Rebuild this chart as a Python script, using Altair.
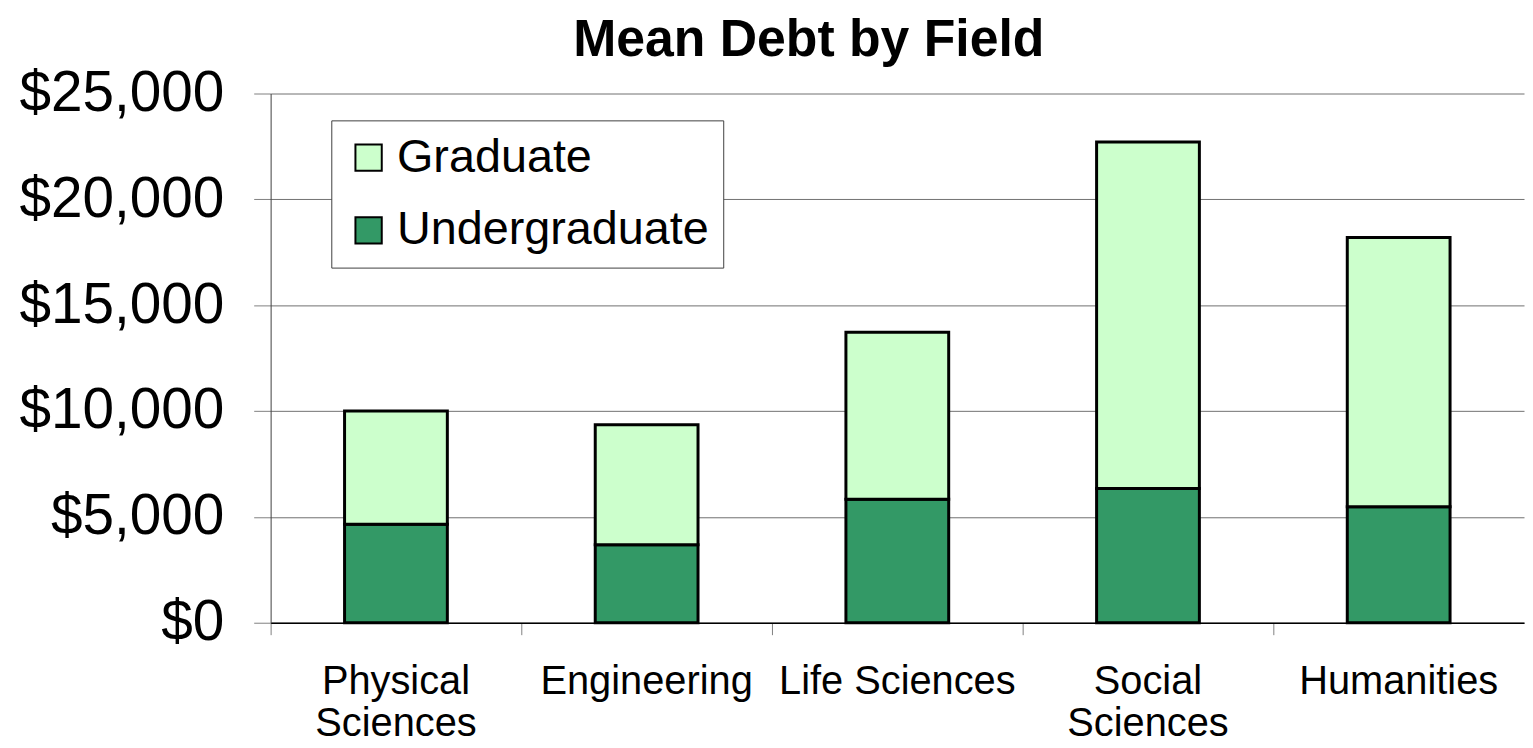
import altair as alt
import pandas as pd

fields = ["Physical Sciences", "Engineering", "Life Sciences", "Social Sciences", "Humanities"]
undergraduate = [4650, 3680, 5830, 6340, 5480]
graduate = [5350, 5670, 7890, 16370, 12720]
series = ["Graduate", "Undergraduate"]
colors = ["#CCFFCC", "#339966"]
y_ticks = [0, 5000, 10000, 15000, 20000, 25000]

rows = []
for f, u, g in zip(fields, undergraduate, graduate):
    rows.append({"Field": f, "Level": "Undergraduate", "Debt": u, "ord": 0})
    rows.append({"Field": f, "Level": "Graduate", "Debt": g, "ord": 1})
df = pd.DataFrame(rows)

FONT = "Liberation Sans"

label_expr = (
    "datum.label == 'Physical Sciences' ? ['Physical', 'Sciences'] : "
    "datum.label == 'Social Sciences' ? ['Social', 'Sciences'] : datum.label"
)

chart = alt.Chart(df).mark_bar(stroke="black", strokeWidth=3,
                               width=alt.RelativeBandSize(0.41)).encode(
    x=alt.X("Field:N", sort=fields, title=None,
            scale=alt.Scale(paddingInner=0, paddingOuter=0),
            axis=alt.Axis(labelAngle=0, labelExpr=label_expr, labelFont=FONT,
                          labelFontSize=40, labelLineHeight=42, labelColor="black",
                          labelPadding=27, labelLimit=0, tickSize=12, tickColor="#808080",
                          bandPosition=0, domainColor="black", domainWidth=1.5,
                          grid=False)),
    y=alt.Y("Debt:Q", stack="zero", title=None,
            scale=alt.Scale(domain=[0, 25000], nice=False),
            axis=alt.Axis(values=y_ticks, format="$,.0f", labelFont=FONT,
                          labelFontSize=57, labelColor="black", labelPadding=30,
                          labelLimit=0, tickSize=17, tickColor="#808080",
                          domainColor="#404040", gridColor="#707070", gridWidth=1)),
    color=alt.Color("Level:N", title=None,
                    scale=alt.Scale(domain=series, range=colors),
                    legend=alt.Legend(orient="none", legendX=61, legendY=27,
                                      labelFont=FONT, labelFontSize=47, labelColor="black",
                                      labelLimit=0,
                                      symbolType="square", symbolSize=700,
                                      symbolStrokeColor="black", symbolStrokeWidth=2,
                                      symbolOpacity=1,
                                      labelOffset=5, rowPadding=25, padding=14,
                                      strokeColor="#404040", fillColor="white")),
    order=alt.Order("ord:Q", sort="ascending"),
).properties(
    width=1260,
    height=532,
    title=alt.TitleParams("Mean Debt by Field", font=FONT, fontSize=52,
                          fontWeight="bold", color="black", anchor="middle",
                          dx=-89, offset=-2),
    autosize=alt.AutoSizeParams(type="none"),
    padding={"left": 264, "top": 84, "right": 1, "bottom": 130},
).configure_view(stroke=None)

chart.save("out.html", embed_options={"renderer": "svg", "actions": False})
